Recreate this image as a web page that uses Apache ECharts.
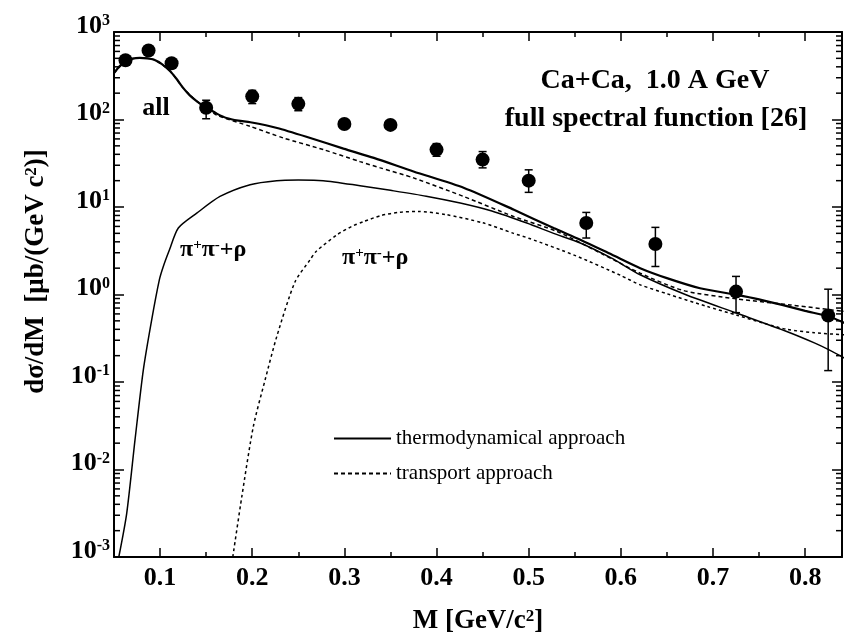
<!DOCTYPE html>
<html><head><meta charset="utf-8">
<script src="https://cdn.jsdelivr.net/npm/echarts@6/dist/echarts.min.js"></script>
<style>html,body{margin:0;padding:0;background:#fff}#c{width:844px;height:641px}</style>
</head><body><div id="c"></div>
<script>
// ---------- data ----------
const xMin = 0.05, xMax = 0.84;
const xMajorTicks = [0.1,0.2,0.3,0.4,0.5,0.6,0.7,0.8];
const xMinorTicks = [0.05,0.15,0.25,0.35,0.45,0.55,0.65,0.75];
const yMinorTicks = [0.002,0.003,0.004,0.005,0.006,0.007,0.008,0.009,
  0.02,0.03,0.04,0.05,0.06,0.07,0.08,0.09,0.2,0.3,0.4,0.5,0.6,0.7,0.8,0.9,
  2,3,4,5,6,7,8,9,20,30,40,50,60,70,80,90,200,300,400,500,600,700,800,900];

const massPoints = [0.0625,0.0875,0.1125,0.15,0.2,0.25,0.3,0.35,0.4,0.45,0.5,0.5625,0.6375,0.725,0.825];
const dataValues = [475,614,440,136,184,151,89,86.7,45.3,34.8,20,6.56,3.77,1.08,0.575];
const errLow     = [452,585,419,102,152,126,80,78,38,28,14.7,4.42,2.09,0.62,0.135];
const errHigh    = [498,644,461,166,215,178,99,96,53,43,26.6,8.67,5.85,1.61,1.15];

const thermoAllM = [0.05,0.056,0.063,0.07,0.078,0.086,0.093,0.102,0.111,0.118,0.125,0.132,0.14,0.147,0.154,0.162,0.172,0.185,0.198,0.227,0.263,0.299,0.332,0.375,0.43,0.484,0.527,0.556,0.59,0.621,0.65,0.686,0.726,0.75,0.775,0.80,0.826,0.843];
const thermoAllV = [340,405,465,497,507,500,484,430,356,290,230,190,161,143,130,116,104,97,93,80,61.5,46.5,36.4,25.5,16.5,9.3,5.75,4.23,2.86,2.0,1.54,1.18,0.99,0.88,0.76,0.65,0.56,0.47];

const transportAllM = [0.05,0.063,0.078,0.093,0.111,0.125,0.14,0.154,0.1615,0.1977,0.2338,0.277,0.317,0.339,0.375,0.4293,0.4836,0.5306,0.58,0.621,0.668,0.726,0.784,0.843];
const transportAllV = [340,465,507,484,356,230,161,128,112,83.5,61.5,45.3,33,28,21.5,13.2,7.8,5.26,2.9,1.75,1.11,0.89,0.76,0.64];

const thermoPiM = [0.0552,0.0638,0.0728,0.0818,0.0909,0.0992,0.1035,0.11,0.1198,0.1398,0.165,0.1977,0.2266,0.25,0.277,0.317,0.35,0.3888,0.4257,0.46,0.498,0.527,0.556,0.59,0.621,0.67,0.726,0.78,0.81,0.826,0.843];
const thermoPiV = [0.001,0.00316,0.0218,0.137,0.514,1.47,2.09,3.2,5.75,8.5,13.2,18.0,20.0,20.3,20.0,17.5,15.5,13.3,11.1,9.0,6.56,5.0,3.88,2.6,1.68,1.0,0.61,0.378,0.28,0.233,0.187];

const transportPiM = [0.1789,0.1887,0.2012,0.214,0.2266,0.2465,0.2628,0.2693,0.2918,0.308,0.3207,0.34,0.36,0.38,0.41,0.45,0.4836,0.5,0.55,0.6,0.621,0.65,0.6935,0.726,0.755,0.78,0.81,0.843];
const transportPiV = [0.001,0.0049,0.031,0.106,0.33,1.4,2.49,3.1,4.8,6.0,6.8,8.0,8.7,8.9,8.2,6.6,5.0,4.4,2.8,1.65,1.29,1.02,0.73,0.58,0.47,0.40,0.365,0.346];

// ---------- chart ----------
const FF = "'Liberation Serif','Times New Roman',serif";
const zip = (a, b) => a.map((v, i) => [v, b[i]]);
const chart = echarts.init(document.getElementById('c'), null, {renderer: 'canvas'});

const xAxisBase = {type: 'value', min: xMin, max: xMax, splitLine: {show: false}, gridIndex: 0};
function tickAxis(pos, vals, len, showLine) {
  return Object.assign({}, xAxisBase, {
    position: pos,
    axisLine: {show: showLine, onZero: false, lineStyle: {color: '#000', width: 2}},
    axisTick: {show: true, inside: true, length: len, customValues: vals, lineStyle: {color: '#000', width: 1.5}},
    axisLabel: {show: false}
  });
}
const supRich = {
  b: {fontSize: 27, fontWeight: 'bold', fontFamily: FF, color: '#000'},
  s: {fontSize: 17, fontWeight: 'bold', fontFamily: FF, color: '#000', verticalAlign: 'top'}
};

const option = {
  backgroundColor: '#fff',
  animation: false,
  grid: {left: 114, right: 2, top: 32, bottom: 84, containLabel: false},
  legend: {
    orient: 'vertical', left: 328, top: 423, padding: 5, itemWidth: 57, itemHeight: 18, itemGap: 14,
    data: ['thermodynamical approach', 'transport approach'],
    textStyle: {fontFamily: FF, fontSize: 21, color: '#000'},
    itemStyle: {opacity: 0},
    selectedMode: false
  },
  xAxis: [
    Object.assign({}, xAxisBase, {
      position: 'bottom',
      axisLine: {show: true, onZero: false, lineStyle: {color: '#000', width: 2}},
      axisTick: {show: true, inside: true, length: 9, customValues: xMajorTicks, lineStyle: {color: '#000', width: 1.5}},
      axisLabel: {show: true, customValues: xMajorTicks, formatter: v => v.toFixed(1), margin: 8,
        fontSize: 26, fontWeight: 'bold', fontFamily: FF, color: '#000'},
      name: '{b|M [GeV/c}{s|2}{b|]}', nameLocation: 'middle', nameGap: 51,
      nameTextStyle: {rich: supRich}
    }),
    tickAxis('bottom', xMinorTicks, 5, false),
    tickAxis('top', xMajorTicks, 9, true),
    tickAxis('top', xMinorTicks, 5, false)
  ],
  yAxis: [
    {
      type: 'log', logBase: 10, min: 0.001, max: 1000, position: 'left',
      splitLine: {show: false},
      axisLine: {show: true, onZero: false, lineStyle: {color: '#000', width: 2}},
      axisTick: {show: true, inside: true, length: 10, lineStyle: {color: '#000', width: 1.5}},
      axisLabel: {
        show: true, margin: 4, padding: [0, 0, 12, 0],
        formatter: v => '{b|10}{s|' + Math.round(Math.log10(v)) + '}',
        rich: {
          b: {fontSize: 26, fontWeight: 'bold', fontFamily: FF, color: '#000'},
          s: {fontSize: 16, fontWeight: 'bold', fontFamily: FF, color: '#000', verticalAlign: 'top'}
        }
      },
      name: '{b|d\u03c3/dM  [\u03bcb/(GeV c}{s|2}{b|)]}', nameLocation: 'middle', nameGap: 64, nameRotate: 90,
      nameTextStyle: {rich: supRich, padding: [0, 0, 0, 46]}
    },
    {
      type: 'log', logBase: 10, min: 0.001, max: 1000, position: 'right',
      splitLine: {show: false},
      axisLine: {show: true, onZero: false, lineStyle: {color: '#000', width: 2}},
      axisTick: {show: true, inside: true, length: 10, lineStyle: {color: '#000', width: 1.5}},
      axisLabel: {show: false}
    }
  ],
  graphic: [
    {type: 'text', x: 655, y: 81, style: {text: 'Ca+Ca,  1.0 A GeV', font: 'bold 28px ' + FF, fill: '#000',
      textAlign: 'center', textVerticalAlign: 'middle', align: 'center', verticalAlign: 'middle'}},
    {type: 'text', x: 656, y: 119, style: {text: 'full spectral function [26]', font: 'bold 28px ' + FF, fill: '#000',
      textAlign: 'center', textVerticalAlign: 'middle', align: 'center', verticalAlign: 'middle'}},
    {type: 'text', x: 156, y: 108, style: {text: 'all', font: 'bold 26px ' + FF, fill: '#000',
      textAlign: 'center', textVerticalAlign: 'middle', align: 'center', verticalAlign: 'middle'}},
    {type: 'text', x: 180, y: 250, style: {text: '{a|\u03c0}{s|+}{a|\u03c0}{s|-}{a|+\u03c1}',
      rich: {a: {fontSize: 24, fontWeight: 'bold', fontFamily: FF, fill: '#000'},
             s: {fontSize: 15, fontWeight: 'bold', fontFamily: FF, fill: '#000', verticalAlign: 'top'}},
      textAlign: 'left', textVerticalAlign: 'middle', align: 'left', verticalAlign: 'middle'}},
    {type: 'text', x: 342, y: 258, style: {text: '{a|\u03c0}{s|+}{a|\u03c0}{s|-}{a|+\u03c1}',
      rich: {a: {fontSize: 24, fontWeight: 'bold', fontFamily: FF, fill: '#000'},
             s: {fontSize: 15, fontWeight: 'bold', fontFamily: FF, fill: '#000', verticalAlign: 'top'}},
      textAlign: 'left', textVerticalAlign: 'middle', align: 'left', verticalAlign: 'middle'}}
  ],
  series: [
    {name: 'transport approach', type: 'line', data: zip(transportAllM, transportAllV), showSymbol: false, symbol: 'none',
      smooth: 0.25, lineStyle: {color: '#000', width: 1.5, type: [4, 3]}, itemStyle: {color: '#000'}, z: 2},
    {name: 'thermodynamical approach', type: 'line', data: zip(thermoAllM, thermoAllV), showSymbol: false, symbol: 'none',
      smooth: 0.25, lineStyle: {color: '#000', width: 2.2}, itemStyle: {color: '#000'}, z: 3},
    {name: 'pi thermo', type: 'line', data: zip(thermoPiM, thermoPiV), showSymbol: false, symbol: 'none',
      smooth: 0.25, lineStyle: {color: '#000', width: 1.5}, z: 2},
    {name: 'pi transport', type: 'line', data: zip(transportPiM, transportPiV), showSymbol: false, symbol: 'none',
      smooth: 0.25, lineStyle: {color: '#000', width: 1.5, type: [3, 3]}, z: 2},
    {name: 'errors', type: 'custom', data: massPoints.map((m, i) => [m, errLow[i], errHigh[i]]),
      encode: {x: 0, y: [1, 2]}, silent: true, z: 4,
      renderItem: function (params, api) {
        const lo = api.coord([api.value(0), api.value(1)]);
        const hi = api.coord([api.value(0), api.value(2)]);
        const st = {stroke: '#000', lineWidth: 1.5};
        return {type: 'group', children: [
          {type: 'line', shape: {x1: lo[0], y1: lo[1], x2: hi[0], y2: hi[1]}, style: st},
          {type: 'line', shape: {x1: lo[0] - 4, y1: lo[1], x2: lo[0] + 4, y2: lo[1]}, style: st},
          {type: 'line', shape: {x1: hi[0] - 4, y1: hi[1], x2: hi[0] + 4, y2: hi[1]}, style: st}
        ]};
      }},
    {name: 'data', type: 'scatter', data: zip(massPoints, dataValues), symbol: 'circle', symbolSize: 14,
      itemStyle: {color: '#000', opacity: 1}, z: 5, silent: true},
    {name: 'yminor', type: 'custom', data: yMinorTicks.map(v => [xMin, v]), silent: true, clip: false, z: 6,
      renderItem: function (params, api) {
        const cs = params.coordSys;
        const y = api.coord([api.value(0), api.value(1)])[1];
        const st = {stroke: '#000', lineWidth: 1.5};
        return {type: 'group', children: [
          {type: 'line', shape: {x1: cs.x, y1: y, x2: cs.x + 6, y2: y}, style: st},
          {type: 'line', shape: {x1: cs.x + cs.width, y1: y, x2: cs.x + cs.width - 6, y2: y}, style: st}
        ]};
      }}
  ]
};
chart.setOption(option);
</script>
</body></html>
